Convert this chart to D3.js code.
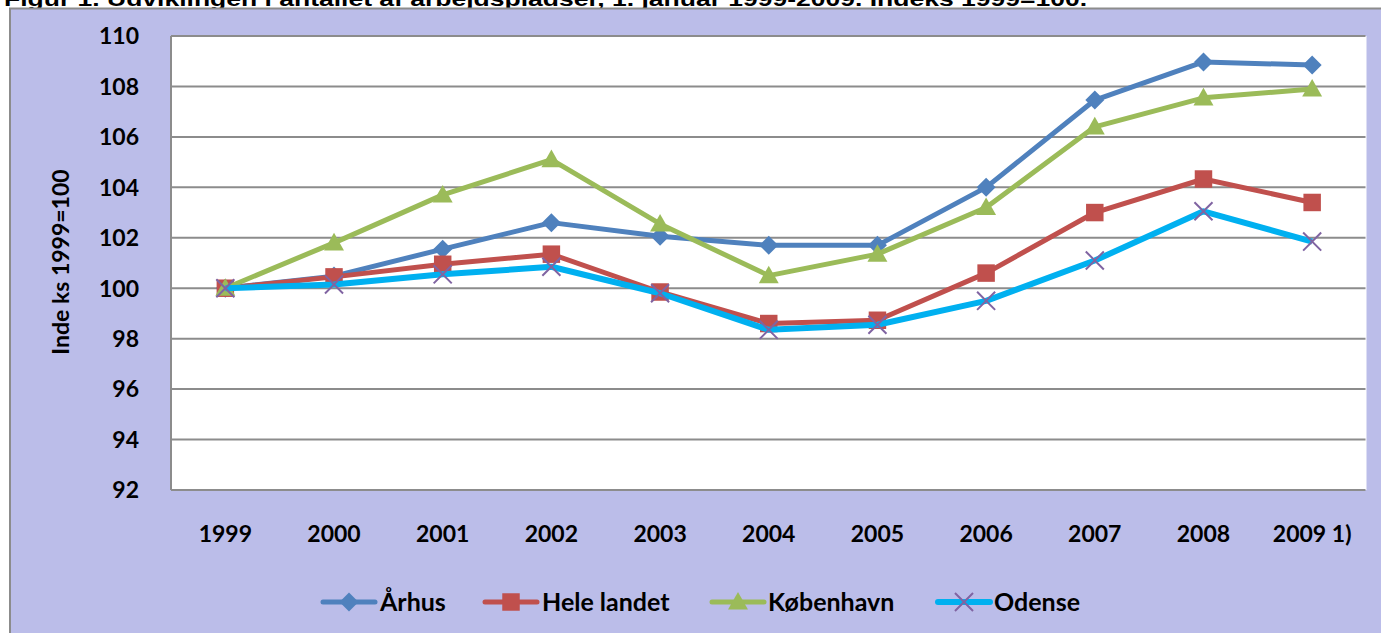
<!DOCTYPE html>
<html>
<head>
<meta charset="utf-8">
<script src="https://cdn.jsdelivr.net/npm/d3@7"></script>
<style>
  html, body { margin: 0; padding: 0; background: #fff; overflow: hidden; }
  text { font-family: Lato, "Open Sans", sans-serif; font-weight: bold; fill: #000; }
</style>
</head>
<body>
<script>
// data
const years = ["1999", "2000", "2001", "2002", "2003", "2004", "2005", "2006", "2007", "2008", "2009 1)"]
const aarhus = [100, 100.48, 101.55, 102.6, 102.06, 101.7, 101.7, 104.0, 107.46, 108.97, 108.85]
const heleLandet = [100, 100.45, 100.95, 101.35, 99.85, 98.6, 98.73, 100.6, 103.0, 104.33, 103.4]
const koebenhavn = [100, 101.8, 103.7, 105.1, 102.55, 100.5, 101.35, 103.2, 106.4, 107.55, 107.9]
const odense = [100, 100.15, 100.55, 100.85, 99.8, 98.35, 98.55, 99.5, 101.1, 103.05, 101.85]
const yTicks = [92, 94, 96, 98, 100, 102, 104, 106, 108, 110]

const series = [
  { name: "Århus", values: aarhus, color: "#4F81BD", marker: "diamond", lw: 5 },
  { name: "Hele landet", values: heleLandet, color: "#C0504D", marker: "square", lw: 5 },
  { name: "København", values: koebenhavn, color: "#9BBB59", marker: "triangle", lw: 5 },
  { name: "Odense", values: odense, color: "#00B0F0", marker: "x", lw: 6, markerColor: "#8064A2" }
]

const width = 1381, height = 633
const margin = { top: 36, right: 1381 - 1366.5, bottom: 633 - 490, left: 171 }

const svg = d3.select("body").append("svg")
  .attr("width", width)
  .attr("height", height)

// title, mostly cut off at the top of the page (as in the source)
svg.append("text")
  .attr("x", 4)
  .attr("y", 6)
  .style("font-family", "'Liberation Sans', Arial, sans-serif")
  .style("font-size", "21px")
  .attr("textLength", 1083)
  .attr("lengthAdjust", "spacingAndGlyphs")
  .text("Figur 1. Udviklingen i antallet af arbejdspladser, 1. januar 1999-2009. Indeks 1999=100.")

// chart area frame
svg.append("rect")
  .attr("x", 10).attr("y", 8.5)
  .attr("width", width).attr("height", height)
  .attr("fill", "#BBBDE9")
  .attr("stroke", "#8c8c8c")
  .attr("stroke-width", 2)

const x = d3.scaleBand()
  .domain(years)
  .range([margin.left, width - margin.right])
const cx = d => x(d) + x.bandwidth() / 2

const y = d3.scaleLinear()
  .domain([92, 110])
  .range([height - margin.bottom, margin.top])

// plot area
svg.append("rect")
  .attr("x", margin.left)
  .attr("y", margin.top)
  .attr("width", width - margin.right - margin.left)
  .attr("height", y(92) - margin.top)
  .attr("fill", "#fff")

// gridlines
svg.append("g")
  .selectAll("line")
  .data(yTicks)
  .join("line")
  .attr("x1", margin.left)
  .attr("x2", width - margin.right - 1)
  .attr("y1", d => y(d))
  .attr("y2", d => y(d))
  .attr("stroke", "#8c8c8c")
  .attr("stroke-width", 2)

// left axis line
svg.append("line")
  .attr("x1", margin.left).attr("x2", margin.left)
  .attr("y1", y(110)).attr("y2", y(92))
  .attr("stroke", "#8c8c8c")
  .attr("stroke-width", 2)

// y tick labels
svg.append("g")
  .selectAll("text")
  .data(yTicks)
  .join("text")
  .attr("x", 139)
  .attr("y", d => y(d))
  .attr("dy", "0.36em")
  .attr("text-anchor", "end")
  .style("font-size", "23px")
  .text(d => d)

// x tick labels
svg.append("g")
  .selectAll("text")
  .data(years)
  .join("text")
  .attr("x", d => cx(d))
  .attr("y", 534)
  .attr("dy", "0.36em")
  .attr("text-anchor", "middle")
  .style("font-size", "23px")
  .text(d => d)

// y axis title
svg.append("text")
  .attr("transform", "translate(61,262) rotate(-90)")
  .attr("text-anchor", "middle")
  .attr("dy", "0.36em")
  .style("font-size", "23px")
  .text("Inde ks 1999=100")

function drawMarker(g, type, color, size) {
  const s = size / 2
  if (type === "diamond") {
    g.append("path").attr("d", `M0,${-s}L${s},0L0,${s}L${-s},0Z`).attr("fill", color)
  } else if (type === "square") {
    g.append("rect").attr("x", -s * 0.92).attr("y", -s * 0.92)
      .attr("width", s * 1.84).attr("height", s * 1.84).attr("fill", color)
  } else if (type === "triangle") {
    g.append("path").attr("d", `M0,${-s * 1.05}L${s * 1.05},${s * 0.8}L${-s * 1.05},${s * 0.8}Z`).attr("fill", color)
  } else if (type === "x") {
    const k = s * 0.95
    g.append("path").attr("d", `M${-k},${-k}L${k},${k}M${k},${-k}L${-k},${k}`)
      .attr("stroke", color).attr("stroke-width", 2).attr("fill", "none")
  }
}

const line = d3.line()
  .x((d, i) => cx(years[i]))
  .y(d => y(d))

series.forEach(s => {
  const g = svg.append("g")
  g.append("path")
    .attr("d", line(s.values))
    .attr("fill", "none")
    .attr("stroke", s.color)
    .attr("stroke-width", s.lw)
    .attr("stroke-linejoin", "round")
  s.values.forEach((v, i) => {
    const m = g.append("g").attr("transform", `translate(${cx(years[i])},${y(v)})`)
    drawMarker(m, s.marker, s.markerColor || s.color, 19)
  })
})

// legend
const legendItems = [
  { x0: 323, tx: 380 },
  { x0: 485, tx: 542 },
  { x0: 712, tx: 768 },
  { x0: 938, tx: 994 }
]
const ly = 602
series.forEach((s, i) => {
  const it = legendItems[i]
  const g = svg.append("g")
  g.append("line")
    .attr("x1", it.x0).attr("x2", it.x0 + 52)
    .attr("y1", ly).attr("y2", ly)
    .attr("stroke", s.color)
    .attr("stroke-width", s.lw)
    .attr("stroke-linecap", "round")
  const m = g.append("g").attr("transform", `translate(${it.x0 + 26},${ly})`)
  drawMarker(m, s.marker, s.markerColor || s.color, 19)
  g.append("text")
    .attr("x", it.tx)
    .attr("y", ly)
    .attr("dy", "0.36em")
    .style("font-size", "25px")
    .text(s.name)
})
</script>
</body>
</html>
